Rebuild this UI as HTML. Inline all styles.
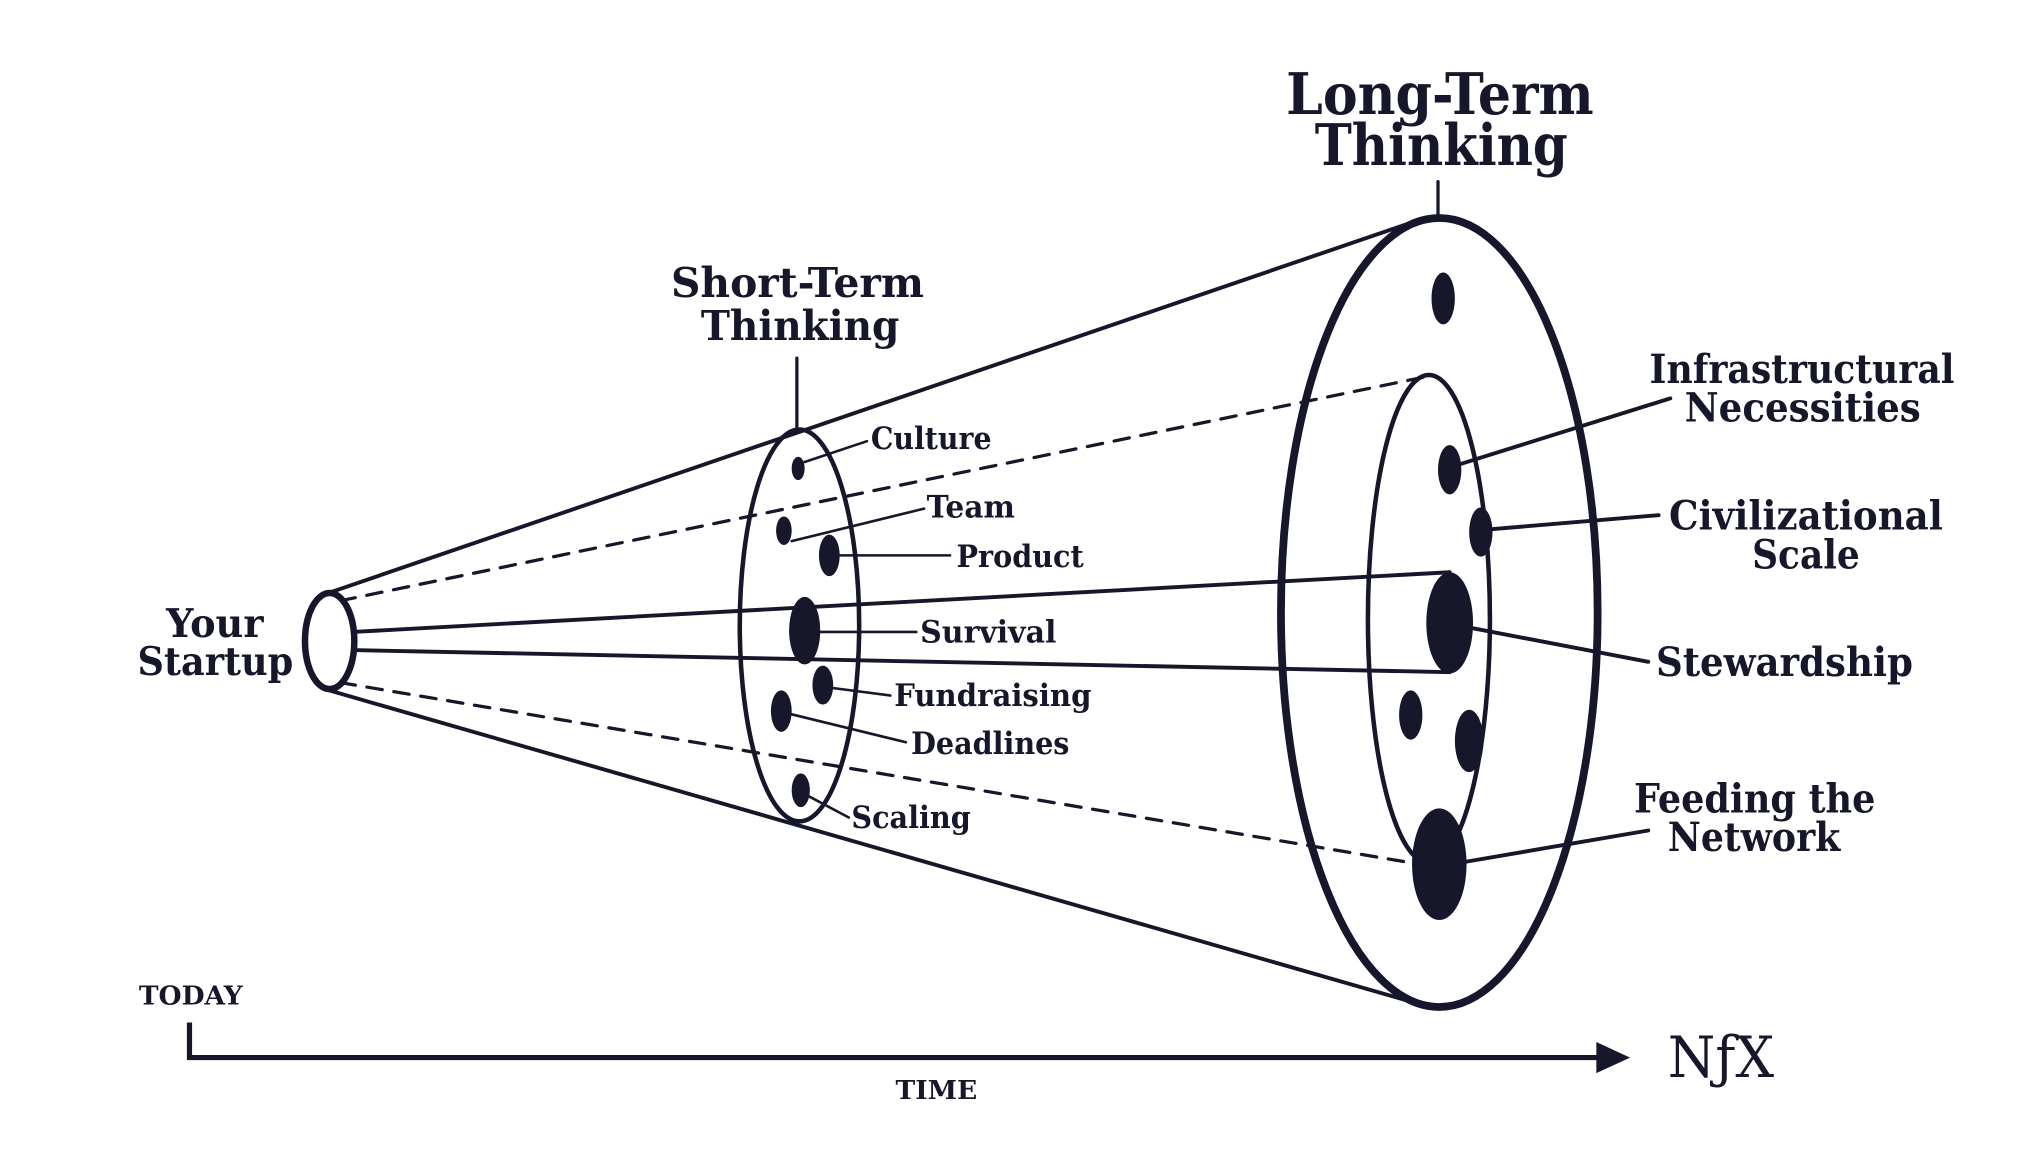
<!DOCTYPE html>
<html><head><meta charset="utf-8"><style>
html,body{margin:0;padding:0;background:#fff;}
svg{display:block;}
text{font-family:"DejaVu Serif","Liberation Serif",serif;font-weight:bold;fill:#16172b;}
</style></head><body>
<svg width="2035" height="1151" viewBox="0 0 1568 887" preserveAspectRatio="none" xmlns="http://www.w3.org/2000/svg">
<g stroke="#16172b" fill="none" stroke-linecap="round">
<!-- cone lines -->
<line x1="250" y1="458" x2="1095" y2="169" stroke-width="3"/>
<line x1="250" y1="531" x2="1098" y2="775" stroke-width="3"/>
<line x1="262" y1="463" x2="1100" y2="290" stroke-width="2.5" stroke-dasharray="12,9"/>
<line x1="262" y1="526" x2="1088" y2="665" stroke-width="2.5" stroke-dasharray="12,9"/>
<line x1="272" y1="487" x2="1117" y2="441" stroke-width="3"/>
<line x1="272" y1="501" x2="1117" y2="518" stroke-width="3"/>
<!-- ellipses -->
<ellipse cx="254" cy="494" rx="19" ry="37" stroke-width="5" fill="#fff"/>
<ellipse cx="616" cy="482" rx="46" ry="151" stroke-width="3.5"/>
<ellipse cx="1109" cy="472" rx="122" ry="304" stroke-width="6"/>
<ellipse cx="1101" cy="477" rx="47" ry="188" stroke-width="3.5"/>
<!-- stems -->
<line x1="614" y1="276" x2="614" y2="330" stroke-width="2.5"/>
<line x1="1108" y1="140" x2="1108" y2="167" stroke-width="2.5"/>
<!-- leaders -->
<g stroke-width="2">
<line x1="620" y1="356" x2="668" y2="340"/>
<line x1="610" y1="417" x2="712" y2="392"/>
<line x1="647" y1="428" x2="732" y2="428"/>
<line x1="632" y1="487" x2="706" y2="487"/>
<line x1="640" y1="530" x2="686" y2="536"/>
<line x1="608" y1="550" x2="698" y2="572"/>
<line x1="622" y1="613" x2="654" y2="630"/>
</g>
<g stroke-width="3">
<line x1="1124" y1="358" x2="1287" y2="307"/>
<line x1="1147" y1="408" x2="1278" y2="397"/>
<line x1="1134" y1="484" x2="1270" y2="510"/>
<line x1="1130" y1="664" x2="1270" y2="640"/>
</g>
<!-- axis -->
<polyline points="146,788 146,815 1235,815" stroke-width="4" stroke-linecap="butt"/>
</g>
<g fill="#16172b">
<polygon points="1230,803 1256,815 1230,827"/>
<ellipse cx="615" cy="361" rx="5" ry="9"/>
<ellipse cx="604" cy="409" rx="6" ry="11"/>
<ellipse cx="639" cy="428" rx="8" ry="16"/>
<ellipse cx="620" cy="486" rx="12" ry="26"/>
<ellipse cx="634" cy="528" rx="8" ry="15"/>
<ellipse cx="602" cy="548" rx="8" ry="16"/>
<ellipse cx="617" cy="609" rx="7" ry="13"/>
<ellipse cx="1112" cy="230" rx="9" ry="20"/>
<ellipse cx="1117" cy="362" rx="9" ry="19"/>
<ellipse cx="1141" cy="410" rx="9" ry="19"/>
<ellipse cx="1117" cy="480" rx="18" ry="39"/>
<ellipse cx="1087" cy="551" rx="9" ry="19"/>
<ellipse cx="1132" cy="571" rx="11" ry="24"/>
<ellipse cx="1109" cy="666" rx="21" ry="43"/>
</g>
<g lengthAdjust="spacingAndGlyphs">
<text x="991" y="88" font-size="44" textLength="237" lengthAdjust="spacingAndGlyphs">Long-Term</text>
<text x="1013" y="127" font-size="44" textLength="195" lengthAdjust="spacingAndGlyphs">Thinking</text>
<text x="517" y="229" font-size="32" textLength="195" lengthAdjust="spacingAndGlyphs">Short-Term</text>
<text x="540" y="262" font-size="32" textLength="153" lengthAdjust="spacingAndGlyphs">Thinking</text>
<text x="128" y="491" font-size="30" textLength="75" lengthAdjust="spacingAndGlyphs">Your</text>
<text x="106" y="520" font-size="30" textLength="120" lengthAdjust="spacingAndGlyphs">Startup</text>
<text x="671" y="346" font-size="24" textLength="93" lengthAdjust="spacingAndGlyphs">Culture</text>
<text x="714" y="399" font-size="24" textLength="68" lengthAdjust="spacingAndGlyphs">Team</text>
<text x="737" y="437" font-size="24" textLength="98" lengthAdjust="spacingAndGlyphs">Product</text>
<text x="709" y="495" font-size="24" textLength="105" lengthAdjust="spacingAndGlyphs">Survival</text>
<text x="689" y="544" font-size="24" textLength="152" lengthAdjust="spacingAndGlyphs">Fundraising</text>
<text x="702" y="581" font-size="24" textLength="122" lengthAdjust="spacingAndGlyphs">Deadlines</text>
<text x="656" y="638" font-size="24" textLength="92" lengthAdjust="spacingAndGlyphs">Scaling</text>
<text x="1271" y="295" font-size="31" textLength="235" lengthAdjust="spacingAndGlyphs">Infrastructural</text>
<text x="1298" y="325" font-size="31" textLength="182" lengthAdjust="spacingAndGlyphs">Necessities</text>
<text x="1286" y="408" font-size="31" textLength="211" lengthAdjust="spacingAndGlyphs">Civilizational</text>
<text x="1350" y="438" font-size="31" textLength="83" lengthAdjust="spacingAndGlyphs">Scale</text>
<text x="1276" y="521" font-size="31" textLength="198" lengthAdjust="spacingAndGlyphs">Stewardship</text>
<text x="1259" y="626" font-size="31" textLength="186" lengthAdjust="spacingAndGlyphs">Feeding the</text>
<text x="1285" y="656" font-size="31" textLength="133" lengthAdjust="spacingAndGlyphs">Network</text>
<text x="107" y="774" font-size="20" textLength="80" lengthAdjust="spacingAndGlyphs">TODAY</text>
<text x="690" y="847" font-size="20" textLength="63" lengthAdjust="spacingAndGlyphs">TIME</text>
<text x="1285" y="830" font-size="44" font-weight="normal" textLength="82" lengthAdjust="spacingAndGlyphs" style="font-weight:normal">NƒX</text>
</g>
</svg>
</body></html>
